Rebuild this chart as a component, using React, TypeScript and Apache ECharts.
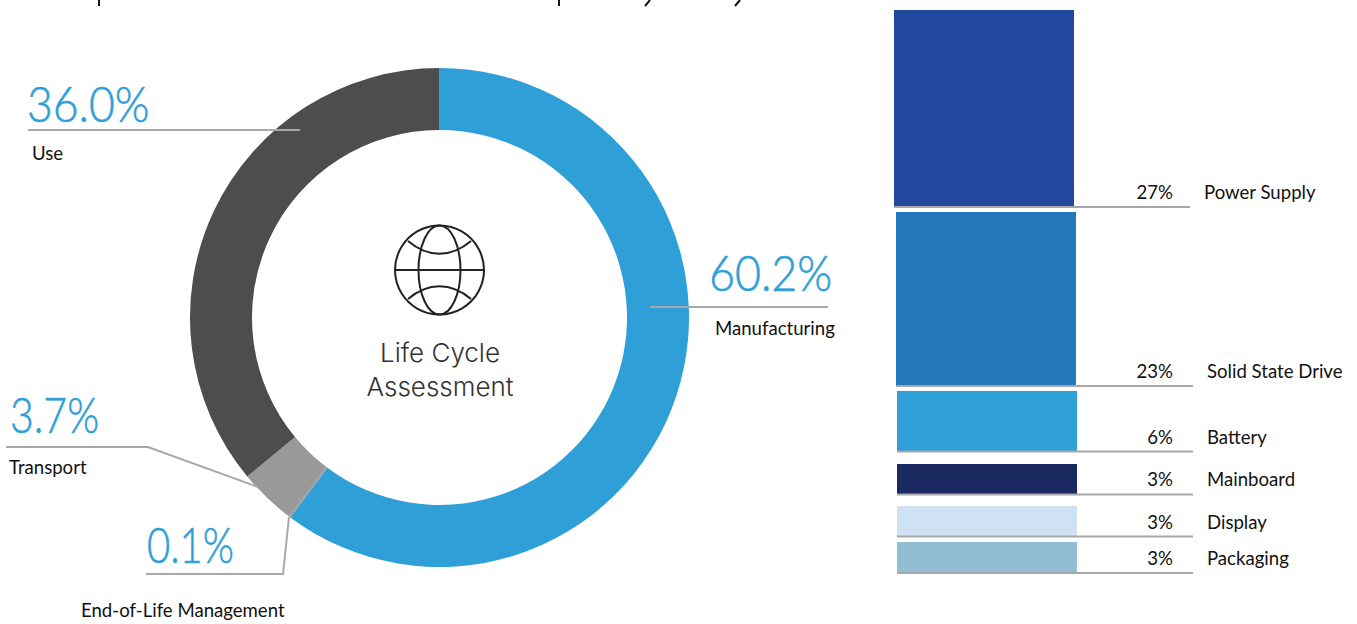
import React, { useEffect, useRef } from "react";
import * as echarts from "echarts";

const lifeCycleNames = ["Manufacturing", "End-of-Life Management", "Transport", "Use"];
const lifeCycleValues = [60.2, 0.1, 3.7, 36.0];
const lifeCycleColors = ["#2f9fd8", "#999999", "#999999", "#4d4d4d"];

const partNames = ["Power Supply", "Solid State Drive", "Battery", "Mainboard", "Display", "Packaging"];
const partValues = [27, 23, 6, 3, 3, 3];
const partColors = ["#22499d", "#2578bb", "#2f9fd8", "#1a2a60", "#cfe2f3", "#93bdd4"];

const BAR_BOXES = [
  { left: 894, top: 10, h: 197, lineY: 207, lineEnd: 1190, pctX: 1173, nameX: 1204, textY: 191 },
  { left: 896, top: 212, h: 174, lineY: 386, lineEnd: 1193, pctX: 1173, nameX: 1207, textY: 370 },
  { left: 897, top: 391, h: 60, lineY: 451.5, lineEnd: 1193, pctX: 1173, nameX: 1207, textY: 436 },
  { left: 897, top: 464, h: 30, lineY: 494.5, lineEnd: 1193, pctX: 1173, nameX: 1207, textY: 478 },
  { left: 897, top: 506, h: 30, lineY: 536.5, lineEnd: 1193, pctX: 1173, nameX: 1207, textY: 521 },
  { left: 897, top: 542, h: 31, lineY: 573, lineEnd: 1193, pctX: 1173, nameX: 1207, textY: 557 },
];

const LABEL_FONT = "Lato, 'Open Sans', sans-serif";
const LINE = "#a8a8a8";
const NAME_SCALE = 0.93;

const PIE_NOTES: Record<string, any> = {
  Manufacturing: { vx: 709, vy: 272, vs: 0.895, nx: 715, ny: 327, pts: [[650, 307], [828, 307]] },
  "End-of-Life Management": { vx: 147, vy: 544, vs: 0.8, nx: 81, ny: 609, pts: [[146, 574], [283, 574], [289, 517]] },
  Transport: { vx: 10, vy: 414, vs: 0.82, nx: 9, ny: 466, pts: [[6, 447], [148, 447], [258, 487]] },
  Use: { vx: 27, vy: 102, vs: 0.89, nx: 32, ny: 152, pts: [[28, 130], [300, 130]] },
};

const CLIPPED_MARKS = [
  [[99, 0], [99, 6]],
  [[559, 0], [559, 6]],
  [[650, 0], [645, 6]],
  [[740, 0], [735, 6]],
];

export default function App() {
  const ref = useRef<HTMLDivElement>(null);
  useEffect(() => {
    const chart = echarts.init(ref.current!, undefined, { renderer: "svg" });
    const graphics: any[] = [];
    CLIPPED_MARKS.forEach((pts) => {
      graphics.push({ type: "polyline", z: 10, shape: { points: pts }, style: { stroke: "#111", lineWidth: 2, fill: "none" } });
    });
    lifeCycleNames.forEach((name, i) => {
      const n = PIE_NOTES[name];
      graphics.push({ type: "polyline", z: 10, shape: { points: n.pts }, style: { stroke: LINE, lineWidth: 2, fill: "none" } });
      graphics.push({ type: "text", z: 10, x: n.vx, y: n.vy, scaleX: n.vs, style: { text: lifeCycleValues[i].toFixed(1) + "%", fill: "#2f9fd8", font: `300 50px ${LABEL_FONT}`, stroke: "#2f9fd8", lineWidth: 0.6, textVerticalAlign: "middle" } });
      graphics.push({ type: "text", z: 10, x: n.nx, y: n.ny, scaleX: NAME_SCALE, style: { text: name, fill: "#111", font: `400 20px ${LABEL_FONT}`, textVerticalAlign: "middle" } });
    });
    partNames.forEach((name, i) => {
      const b = BAR_BOXES[i];
      graphics.push({ type: "line", z: 10, shape: { x1: b.left, y1: b.lineY, x2: b.lineEnd, y2: b.lineY }, style: { stroke: LINE, lineWidth: 2 } });
      graphics.push({ type: "text", z: 10, x: b.pctX, y: b.textY, scaleX: NAME_SCALE, style: { text: partValues[i] + "%", fill: "#111", font: `400 20px ${LABEL_FONT}`, textAlign: "right", textVerticalAlign: "middle" } });
      graphics.push({ type: "text", z: 10, x: b.nameX, y: b.textY, scaleX: NAME_SCALE, style: { text: name, fill: "#111", font: `400 20px ${LABEL_FONT}`, textVerticalAlign: "middle" } });
    });
    const iconStroke = { stroke: "#222", lineWidth: 2, fill: "none" };
    graphics.push(
      { type: "circle", z: 10, shape: { cx: 439.5, cy: 270, r: 44.5 }, style: iconStroke },
      { type: "ellipse", z: 10, shape: { cx: 439.5, cy: 270, rx: 21, ry: 44.5 }, style: iconStroke },
      { type: "line", z: 10, shape: { x1: 395, y1: 270, x2: 484, y2: 270 }, style: iconStroke },
      { type: "bezierCurve", z: 10, shape: { x1: 408, y1: 241, cpx1: 428, cpy1: 258, cpx2: 451, cpy2: 258, x2: 471, y2: 241 }, style: iconStroke },
      { type: "bezierCurve", z: 10, shape: { x1: 408, y1: 299, cpx1: 428, cpy1: 282, cpx2: 451, cpy2: 282, x2: 471, y2: 299 }, style: iconStroke },
      { type: "text", z: 10, x: 440, y: 352, style: { text: "Life Cycle", fill: "#333", font: "300 26px Inter, sans-serif", textAlign: "center", textVerticalAlign: "middle" } },
      { type: "text", z: 10, x: 440, y: 386, style: { text: "Assessment", fill: "#333", font: "300 26px Inter, sans-serif", textAlign: "center", textVerticalAlign: "middle" } }
    );
    chart.setOption({
      animation: false,
      backgroundColor: "#ffffff",
      grid: BAR_BOXES.map((b) => ({ left: b.left, top: b.top, width: 180, height: b.h })),
      xAxis: partNames.map((n, i) => ({ type: "category", gridIndex: i, data: [n], show: false })),
      yAxis: partValues.map((v, i) => ({ type: "value", gridIndex: i, min: 0, max: v, show: false })),
      series: [
        {
          type: "pie",
          center: [439.5, 317.5],
          radius: [187.5, 249.5],
          startAngle: 90,
          clockwise: true,
          label: { show: false },
          labelLine: { show: false },
          silent: true,
          data: lifeCycleNames.map((name, i) => ({ name, value: lifeCycleValues[i], itemStyle: { color: lifeCycleColors[i] } })),
        },
        ...partNames.map((name, i) => ({
          type: "bar",
          name,
          xAxisIndex: i,
          yAxisIndex: i,
          barWidth: "100%",
          silent: true,
          itemStyle: { color: partColors[i] },
          data: [partValues[i]],
        })),
      ],
      graphic: graphics,
    });
    return () => chart.dispose();
  }, []);
  return <div ref={ref} style={{ position: "fixed", left: 0, top: 0, width: 1357, height: 624 }} />;
}
